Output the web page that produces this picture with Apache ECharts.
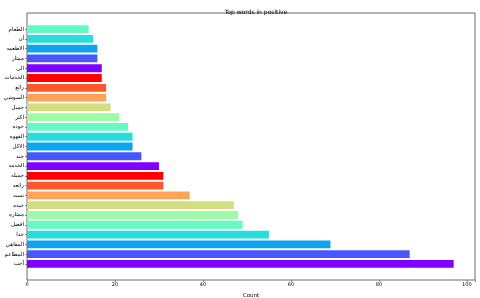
<!DOCTYPE html>
<html><head><meta charset="utf-8">
<script src="https://cdn.jsdelivr.net/npm/echarts@6/dist/echarts.min.js"></script>
<style>html,body{margin:0;padding:0;background:#fff}#c{width:480px;height:298px}</style>
</head><body><div id="c"></div>
<script>
// bottom-to-top order
var words = ["أحب","المطاعم","المقاهي","جدا","افضل","ممتازه","جيده","نسبه","رائعه","جميله","الخدمه","جيد","الاكل","القهوه","جوده","اكثر","جميل","السوشي","رائع","الخدمات","الى","ممتاز","الاطعمه","أن","الطعام"];
var counts = [97,87,69,55,49,48,47,37,31,31,30,26,24,24,23,21,19,18,18,17,17,16,16,15,14];
var palette = ["#8000ff","#4757fb","#0ea4f0","#2adddd","#63fbc3","#9cfba4","#d4dd80","#ffa457","#ff572c","#ff0000"];
var xTicks = [0,20,40,60,80,100];

var chart = echarts.init(document.getElementById('c'), null, {renderer:'canvas'});
var font = "DejaVu Sans";
chart.setOption({
  animation:false,
  backgroundColor:'#fff',
  title:{text:'Top words in positive', left:251, top:4, textAlign:'center',
    textStyle:{fontFamily:font, fontSize:6, fontWeight:'normal', color:'#000'}},
  grid:[
    {left:27, right:5, top:13, bottom:18, show:true, borderColor:'#444', borderWidth:0.8, backgroundColor:'transparent', containLabel:false, outerBoundsMode:'none'},
    {left:27, right:5, top:24.2, bottom:29.2, containLabel:false, outerBoundsMode:'none'}
  ],
  xAxis:[{gridIndex:1, type:'value', min:0, max:101.85, interval:20, offset:11.2,
    name:'Count', nameLocation:'middle', nameGap:10,
    nameTextStyle:{fontFamily:font, fontSize:5.5, color:'#000'},
    axisLine:{show:false}, splitLine:{show:false},
    axisTick:{show:true, length:2, lineStyle:{color:'#444', width:0.6}},
    axisLabel:{fontFamily:font, fontSize:5, color:'#000', margin:2.5,
      customValues: xTicks},
  }],
  yAxis:[{gridIndex:1, type:'category', data:words,
    name:'Words', nameLocation:'middle', nameGap:20, nameRotate:90,
    nameTextStyle:{fontFamily:font, fontSize:5.5, color:'#000'},
    axisLine:{show:false},
    axisTick:{show:true, alignWithLabel:true, length:2, lineStyle:{color:'#444', width:0.6}},
    axisLabel:{fontFamily:font, fontSize:5.5, color:'#000', margin:3}
  }],
  series:[{type:'bar', xAxisIndex:0, yAxisIndex:0, barCategoryGap:'20%',
    data: counts.map(function(v,i){return {value:v, itemStyle:{color:palette[i%palette.length]}};})
  }]
});
</script></body></html>
